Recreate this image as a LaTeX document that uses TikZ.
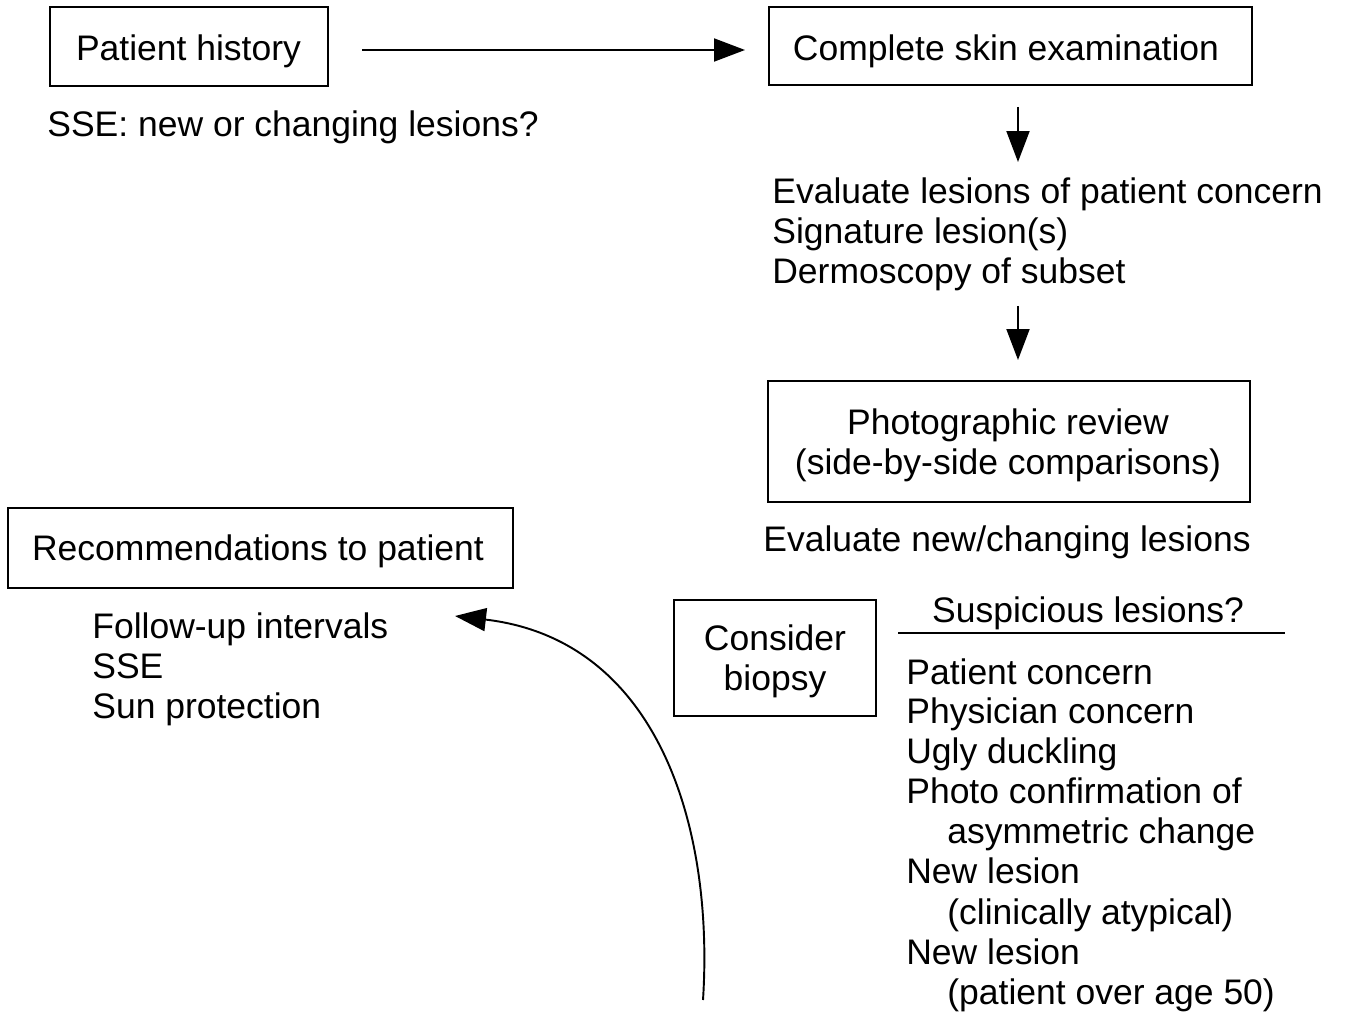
\documentclass[tikz,border=0pt]{standalone}
\usepackage{fontspec}
\setmainfont{Liberation Sans}
\usetikzlibrary{arrows.meta}
\begin{document}
\begin{tikzpicture}[x=0.02cm,y=-0.02cm,
  every node/.style={font=\fontsize{20.2pt}{22.76pt}\selectfont, inner sep=0pt},
  boxnode/.style={draw, line width=1.2pt, minimum width=#1},
  lt/.style={anchor=base west},
  ct/.style={anchor=base},
  arr/.style={line width=1.1pt, -{Triangle[length=0.62cm,width=0.46cm]}}]
\useasboundingbox (0,0) rectangle (1347,1013);
% boxes
\node[boxnode=5.56cm, minimum height=1.58cm] (hist) at (189,46.5) {};
\node[boxnode=9.66cm, minimum height=1.56cm] (cse) at (1010.5,46) {};
\node[boxnode=9.64cm, minimum height=2.42cm] (photo) at (1009,441.5) {};
\node[boxnode=4.04cm, minimum height=2.32cm] (biopsy) at (775,658) {};
\node[boxnode=10.1cm, minimum height=1.6cm] (rec) at (260.5,548) {};
% box texts
\node[ct] (histt) at (188.5,60.5) {Patient history};
\node[ct] (cset) at (1006,61) {Complete skin examination};
\node[ct] (photot1) at (1008,434.5) {Photographic review};
\node[ct] (photot2) at (1008,474.5) {(side-by-side comparisons)};
\node[ct] (biot1) at (775,650.5) {Consider};
\node[ct] (biot2) at (775,690.5) {biopsy};
\node[ct] (rect) at (258,561) {Recommendations to patient};
% free texts
\node[lt] (sse) at (47,137) {SSE: new or changing lesions?};
\node[lt] (ev1) at (772,204) {Evaluate lesions of patient concern};
\node[lt] (ev2) at (772,244) {Signature lesion(s)};
\node[lt] (ev3) at (772,284) {Dermoscopy of subset};
\node[lt] (evn) at (763,551.5) {Evaluate new/changing lesions};
\node[ct] (susp) at (1088,622.5) {Suspicious lesions?};
\node[lt] (s1) at (906,684) {Patient concern};
\node[lt] (s2) at (906,724) {Physician concern};
\node[lt] (s3) at (906,764) {Ugly duckling};
\node[lt] (s4) at (906,804) {Photo confirmation of};
\node[lt] (s5) at (947,844) {asymmetric change};
\node[lt] (s6) at (906,884) {New lesion};
\node[lt] (s7) at (947,924) {(clinically atypical)};
\node[lt] (s8) at (906,964) {New lesion};
\node[lt] (s9) at (947,1004) {(patient over age 50)};
\node[lt] (r1) at (92,638.5) {Follow-up intervals};
\node[lt] (r2) at (92,678.5) {SSE};
\node[lt] (r3) at (92,718.5) {Sun protection};
% rule
\coordinate (ruleL) at (898,633);
\coordinate (ruleR) at (1285,633);
\draw[line width=1.1pt] (ruleL) -- (ruleR);
% connector ends
\coordinate (a1s) at (362,50);
\coordinate (a1e) at (745,50);
\coordinate (a2s) at (1018,107);
\coordinate (a2e) at (1018,162);
\coordinate (a3s) at (1018,306);
\coordinate (a3e) at (1018,360);
\coordinate (a4s) at (703,1000);
\coordinate (a4e) at (455,616);
\draw[arr] (a1s) -- (a1e);
\draw[arr] (a2s) -- (a2e);
\draw[arr] (a3s) -- (a3e);
\draw[arr] (a4s) .. controls (714,830) and (660,640) .. (a4e);
\end{tikzpicture}
\end{document}
